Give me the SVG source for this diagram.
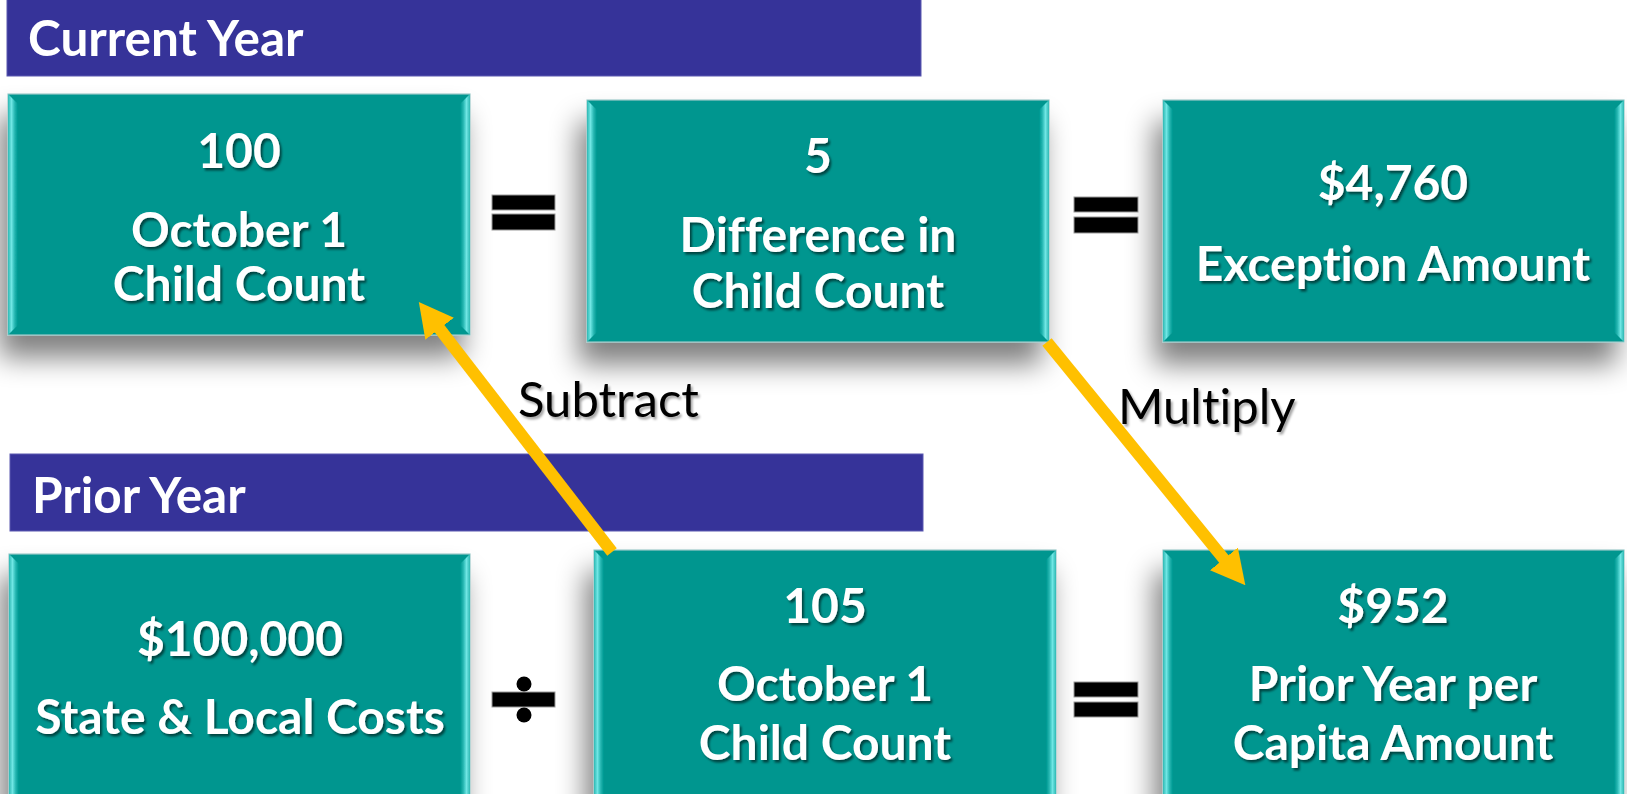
<svg xmlns="http://www.w3.org/2000/svg" width="1627" height="794" viewBox="0 0 1627 794">
<style>
text{font-variant-ligatures:none}
.hdr{fill:#363399;stroke:#5a58b0;stroke-width:1}
.hdrt{font-family:Lato,"Open Sans",sans-serif;font-weight:bold;font-size:49.5px;fill:#ffffff}
.box{fill:#00968f;stroke:#9cc9c9;stroke-width:1.2}
.bl{fill:url(#gl)}
.br{fill:url(#gr)}
.bt2{font-family:Lato,"Open Sans",sans-serif;font-weight:bold;font-size:48px;fill:#ffffff;text-anchor:middle;filter:url(#ts)}
.lbl{font-family:Lato,"Open Sans",sans-serif;font-size:49px;fill:#000000;filter:url(#ts2)}
.op{fill:#000000;stroke:#9a9a9a;stroke-width:1}
.arrow{stroke:#ffc000;stroke-width:12;fill:none;marker-end:url(#ah)}
</style>
<defs>
<linearGradient id="gl" x1="0" y1="0" x2="1" y2="0">
<stop offset="0" stop-color="#2fb8b3"/><stop offset="0.35" stop-color="#6fe6e4"/><stop offset="0.7" stop-color="#1fb2ad"/><stop offset="1" stop-color="#00968f"/>
</linearGradient>
<linearGradient id="gr" x1="0" y1="0" x2="1" y2="0">
<stop offset="0" stop-color="#00968f"/><stop offset="0.3" stop-color="#1fb2ad"/><stop offset="0.65" stop-color="#6fe6e4"/><stop offset="1" stop-color="#2fb8b3"/>
</linearGradient>
<filter id="sh" x="-15%" y="-20%" width="130%" height="160%">
<feGaussianBlur in="SourceAlpha" stdDeviation="14"/>
<feOffset dx="-8" dy="22" result="o"/>
<feComponentTransfer><feFuncA type="linear" slope="0.5"/></feComponentTransfer>
<feMerge><feMergeNode/><feMergeNode in="SourceGraphic"/></feMerge>
</filter>
<filter id="ts" x="-10%" y="-20%" width="120%" height="150%">
<feDropShadow dx="2" dy="2.5" stdDeviation="1.2" flood-color="#000" flood-opacity="0.55"/>
</filter>
<filter id="ts2" x="-10%" y="-20%" width="120%" height="150%">
<feDropShadow dx="2" dy="2.5" stdDeviation="1.2" flood-color="#000" flood-opacity="0.35"/>
</filter>
<marker id="ah" markerUnits="userSpaceOnUse" viewBox="0 0 34 36" markerWidth="34" markerHeight="36" refX="1" refY="18" orient="auto">
<path d="M0,0 L34,18 L0,36 z" fill="#ffc000"/>
</marker>
</defs>
<rect width="1627" height="794" fill="#ffffff"/>

<g id="hdr-current">
<rect class="hdr" x="7" y="-1" width="914" height="77"/>
<text class="hdrt" x="28" y="56">Current Year</text>
</g>
<g id="hdr-prior">
<rect class="hdr" x="10" y="454" width="913" height="77"/>
<text class="hdrt" x="32" y="513">Prior Year</text>
</g>

<g id="box-cy-count">
<g filter="url(#sh)">
<rect class="box" x="8" y="94" width="462" height="241"/>
<polygon class="bl" points="8,94 18,104 18,325 8,335"/>
<polygon class="br" points="470,94 460,104 460,325 470,335"/>
</g>
<text class="bt2" x="239" y="168">100</text>
<text class="bt2" x="239" y="247">October 1</text>
<text class="bt2" x="239" y="301">Child Count</text>
</g>

<g id="box-diff">
<g filter="url(#sh)">
<rect class="box" x="587" y="100" width="462" height="242"/>
<polygon class="bl" points="587,100 597,110 597,332 587,342"/>
<polygon class="br" points="1049,100 1039,110 1039,332 1049,342"/>
</g>
<text class="bt2" x="818" y="173">5</text>
<text class="bt2" x="818" y="252">Difference in</text>
<text class="bt2" x="818" y="308">Child Count</text>
</g>

<g id="box-exception">
<g filter="url(#sh)">
<rect class="box" x="1163" y="100" width="461" height="242"/>
<polygon class="bl" points="1163,100 1173,110 1173,332 1163,342"/>
<polygon class="br" points="1624,100 1614,110 1614,332 1624,342"/>
</g>
<text class="bt2" x="1393" y="200">$4,760</text>
<text class="bt2" x="1393" y="281">Exception Amount</text>
</g>

<g id="box-costs">
<g filter="url(#sh)">
<rect class="box" x="9" y="554" width="461" height="250"/>
<polygon class="bl" points="9,554 19,564 19,804 9,804"/>
<polygon class="br" points="470,554 460,564 460,804 470,804"/>
</g>
<text class="bt2" x="240" y="656">$100,000</text>
<text class="bt2" x="240" y="734">State &amp; Local Costs</text>
</g>

<g id="box-py-count">
<g filter="url(#sh)">
<rect class="box" x="594" y="550" width="462" height="254"/>
<polygon class="bl" points="594,550 604,560 604,804 594,804"/>
<polygon class="br" points="1056,550 1046,560 1046,804 1056,804"/>
</g>
<text class="bt2" x="825" y="623">105</text>
<text class="bt2" x="825" y="701">October 1</text>
<text class="bt2" x="825" y="760">Child Count</text>
</g>

<g id="box-percapita">
<g filter="url(#sh)">
<rect class="box" x="1163" y="550" width="461" height="254"/>
<polygon class="bl" points="1163,550 1173,560 1173,804 1163,804"/>
<polygon class="br" points="1624,550 1614,560 1614,804 1624,804"/>
</g>
<text class="bt2" x="1393" y="623">$952</text>
<text class="bt2" x="1393" y="701">Prior Year per</text>
<text class="bt2" x="1393" y="760">Capita Amount</text>
</g>

<g id="op-eq1">
<rect class="op" x="492" y="195" width="63" height="15"/>
<rect class="op" x="492" y="214" width="63" height="16"/>
</g>
<g id="op-eq2">
<rect class="op" x="1074" y="197" width="64" height="15"/>
<rect class="op" x="1074" y="217" width="64" height="16"/>
</g>
<g id="op-div">
<rect class="op" x="492" y="692" width="63" height="15"/>
<circle cx="524" cy="684" r="7.5" fill="#000"/>
<circle cx="524" cy="715" r="7.5" fill="#000"/>
</g>
<g id="op-eq3">
<rect class="op" x="1074" y="682" width="64" height="15"/>
<rect class="op" x="1074" y="702" width="64" height="15"/>
</g>

<g id="connectors">
<line class="arrow" x1="612" y1="552" x2="439" y2="328"/>
<line class="arrow" x1="1047" y1="342" x2="1224.5" y2="559.7"/>
<text class="lbl" x="518" y="417">Subtract</text>
<text class="lbl" x="1118" y="424">Multiply</text>
</g>
</svg>
